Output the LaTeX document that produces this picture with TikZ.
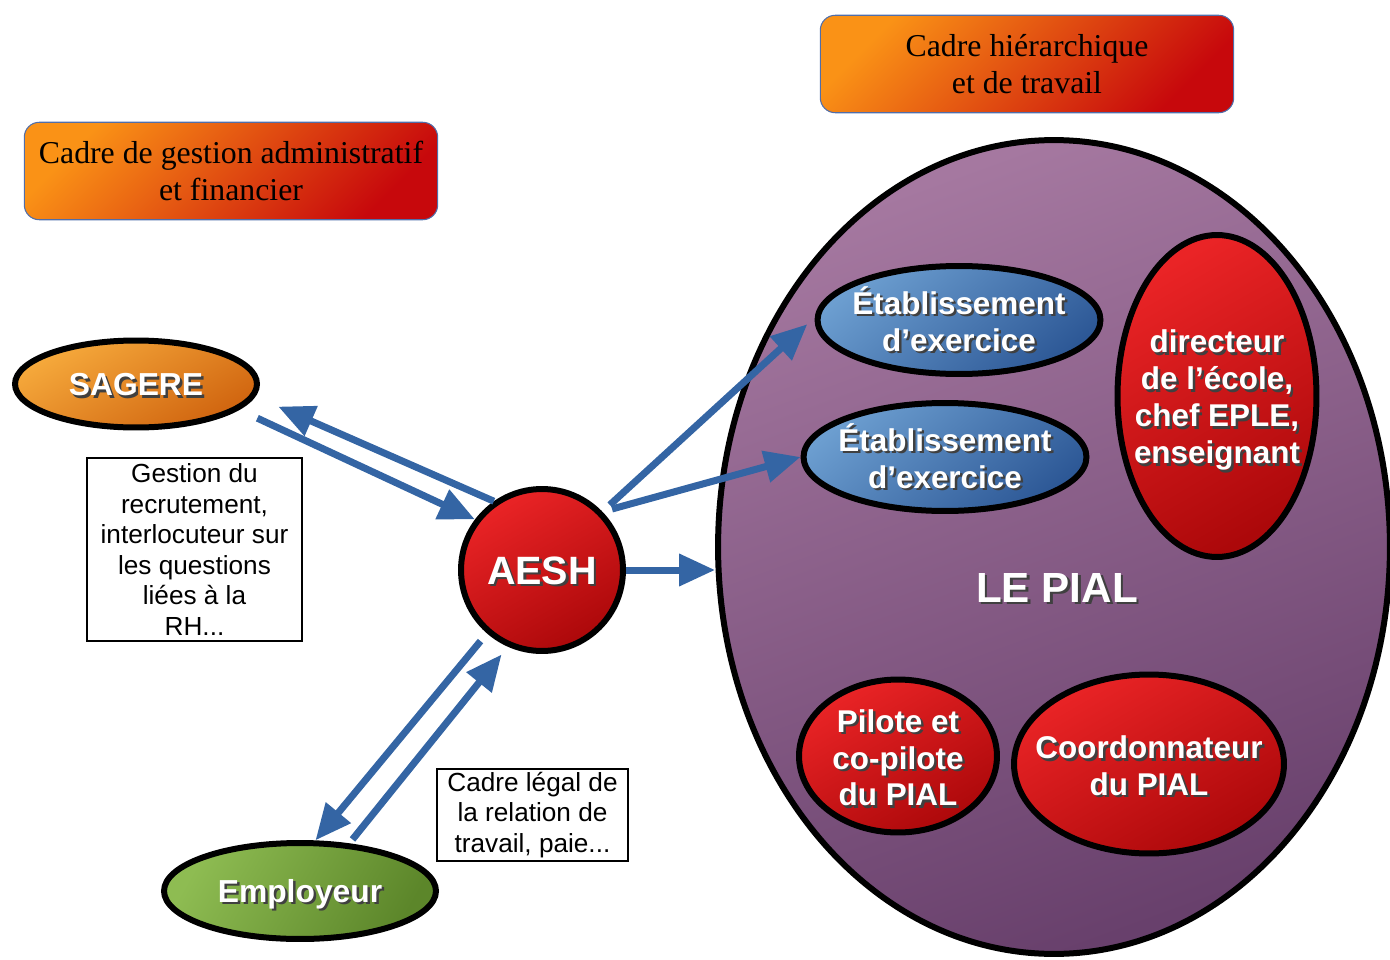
\documentclass[tikz,border=0pt]{standalone}
\usepackage{fontspec}
\setmainfont{Liberation Serif}
\setsansfont{Liberation Sans}
\usetikzlibrary{shapes.geometric,arrows.meta}

\definecolor{orangeHi}{RGB}{250,146,22}
\definecolor{redLo}{RGB}{199,8,12}
\definecolor{cadreedge}{RGB}{80,110,170}
\definecolor{sagHi}{RGB}{246,170,60}
\definecolor{sagLo}{RGB}{208,100,15}
\definecolor{redHi}{RGB}{234,36,38}
\definecolor{redDk}{RGB}{172,8,10}
\definecolor{blueHi}{RGB}{108,158,208}
\definecolor{blueLo}{RGB}{45,88,150}
\definecolor{greenHi}{RGB}{142,188,82}
\definecolor{greenLo}{RGB}{92,134,42}
\definecolor{purHi}{RGB}{165,120,160}
\definecolor{purLo}{RGB}{104,64,108}
\definecolor{arrowblue}{RGB}{52,101,164}

% white text with a dark shadow
\newcommand\shd[1]{\leavevmode\rlap{\kern1.4pt\raisebox{-1.4pt}{\color{black!75}#1}}#1}

\begin{document}
\begin{tikzpicture}[x=0.02cm, y=-0.02cm,
    cadre/.style={draw=cadreedge, line width=0.6pt, rounded corners=0.3cm,
        top color=orangeHi, bottom color=redLo, shading angle=45,
        minimum width=8.27cm, minimum height=1.95cm, align=center,
        font=\fontsize{18.1}{20.8}\selectfont},
    note/.style={draw, line width=0.6pt, align=center, inner sep=0pt,
        font=\sffamily\fontsize{14.9}{17.4}\selectfont},
    bulle/.style={ellipse, draw=black, line width=0.12cm, inner sep=0pt},
    lbl/.style={text=white, align=center, inner sep=0pt,
        font=\sffamily\bfseries\fontsize{17.9}{21}\selectfont},
    rouge/.style={bulle, top color=redHi, bottom color=redDk, shading angle=30},
    bleu/.style={bulle, top color=blueHi, bottom color=blueLo, shading angle=40,
        minimum width=5.66cm, minimum height=2.16cm},
    arr/.style={draw=arrowblue, line width=0.14cm, -{Triangle[length=0.72cm,width=0.62cm]}}]

\useasboundingbox (0,0) rectangle (1390,960);
\clip (0,0) rectangle (1390,960);

% les deux cadres
\node[cadre] (cadreadmin) at (231,171) {\raisebox{-2pt}{Cadre de gestion administratif}\\\raisebox{-2pt}{et financier}};
\node[cadre] (cadrehier) at (1027,64) {\raisebox{-2pt}{Cadre hiérarchique}\\\raisebox{-2pt}{et de travail}};

% le PIAL
\node[bulle, top color=purHi, bottom color=purLo, shading angle=20,
    minimum width=13.44cm, minimum height=16.28cm] (pial) at (1054,547) {};
\node[lbl, font=\sffamily\bfseries\fontsize{24}{28}\selectfont] (pialtxt) at (1057,589) {\shd{LE PIAL}};

\node[bleu, label={[lbl]center:{\shd{Établissement}\\\shd{d’exercice}}}] (etabA) at (959,320) {};
\node[bleu, label={[lbl]center:{\shd{Établissement}\\\shd{d’exercice}}}] (etabB) at (945,457) {};
\node[rouge, minimum width=3.98cm, minimum height=6.44cm,
    label={[lbl, yshift=-0.11cm]center:{\shd{directeur}\\\shd{de l’école,}\\\shd{chef EPLE,}\\\shd{enseignant}}}] (directeur) at (1217,396) {};
\node[rouge, minimum width=3.96cm, minimum height=3.06cm,
    label={[lbl, yshift=-0.06cm]center:{\shd{Pilote et}\\\shd{co-pilote}\\\shd{du PIAL}}}] (pilote) at (898,756) {};
\node[rouge, minimum width=5.4cm, minimum height=3.58cm,
    label={[lbl, yshift=-0.06cm]center:{\shd{Coordonnateur}\\\shd{du PIAL}}}] (coord) at (1149,764) {};

% AESH et partenaires
\node[rouge, circle, minimum size=3.24cm,
    label={[lbl, yshift=-0.04cm, font=\sffamily\bfseries\fontsize{22.5}{26}\selectfont]center:\shd{AESH}}] (aesh) at (542,570) {};
\node[bulle, top color=sagHi, bottom color=sagLo, shading angle=30,
    minimum width=4.84cm, minimum height=1.74cm,
    label={[lbl, yshift=-0.04cm, font=\sffamily\bfseries\fontsize{18.1}{21}\selectfont]center:\shd{SAGERE}}] (sagere) at (136,384) {};
\node[bulle, top color=greenHi, bottom color=greenLo, shading angle=60,
    minimum width=5.44cm, minimum height=1.92cm,
    label={[lbl, yshift=-0.08cm, font=\sffamily\bfseries\fontsize{18.1}{21}\selectfont]center:\shd{Employeur}}] (employeur) at (300,891) {};

\node[note, minimum width=4.3cm, minimum height=3.66cm] (gestion) at (194.5,549.5)
    {Gestion du\\recrutement,\\interlocuteur sur\\les questions\\liées à la\\RH...};
\node[note, minimum width=3.82cm, minimum height=1.84cm] (legal) at (532.5,815)
    {\raisebox{-1.5pt}{Cadre légal de}\\\raisebox{-1.5pt}{la relation de}\\\raisebox{-1.5pt}{travail, paie...}};

% fleches
\draw[arr, shorten <=0.4cm] (sagere.-14) -- (aesh.143);
\draw[arr, shorten >=0.5cm] (aesh.125) -- (sagere.-6);
\draw[arr, shorten <=0.2cm, shorten >=0.2cm] (aesh.44) -- (etabA.179);
\draw[arr, shorten <=0.2cm] (aesh.44) -- (etabB.180);
\draw[arr] (aesh.east) -- (aesh.east -| pial.west);
\draw[arr, shorten <=0.2cm] (aesh.229) -- (employeur.73);
\draw[arr, shorten <=0.1cm, shorten >=0.2cm] (employeur.44) -- (aesh.246);
\end{tikzpicture}
\end{document}
